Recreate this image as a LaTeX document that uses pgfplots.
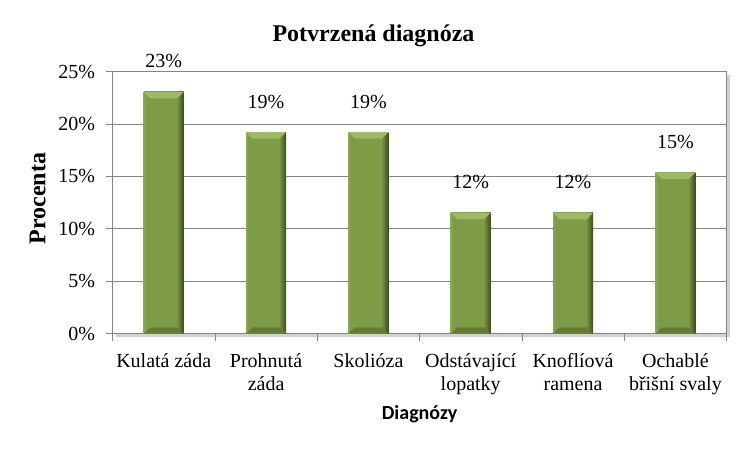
\documentclass[border=0pt]{standalone}
\usepackage{fontspec}
\setmainfont{Liberation Serif}
\newfontfamily\calibri{Carlito}
\usepackage{pgfplots}
\pgfplotsset{compat=1.18}
\usetikzlibrary{shadows}
\definecolor{gridc}{RGB}{134,134,134}
\definecolor{barL}{RGB}{138,168,82}
\definecolor{barM}{RGB}{126,155,71}
\definecolor{barR}{RGB}{58,76,28}
\definecolor{capc}{RGB}{158,186,100}
\definecolor{botc}{RGB}{98,124,50}
\pgfdeclarehorizontalshading{barshade}{100bp}{color(0bp)=(barL); color(25bp)=(barL); color(28bp)=(barM); color(66bp)=(barM); color(75bp)=(barR); color(100bp)=(barR)}
\begin{document}
\begin{tikzpicture}[x=1pt,y=1pt]
\path[use as bounding box, fill=white] (0,0) rectangle (750,450);
\begin{axis}[
  at={(110,111)}, anchor=south west,
  scale only axis, width=614pt, height=262pt,
  /pgf/number format/assume math mode=true,
  xmin=-0.5, xmax=5.5, ymin=0, ymax=25,
  ytick={0,5,...,25},
  yticklabel={\pgfmathprintnumber{\tick}\%},
  xtick={0,...,5},
  xticklabels={Kulatá záda, Prohnutá\\záda, Skolióza, Odstávající\\lopatky, Knoflíová\\ramena, Ochablé\\břišní svaly},
  major x tick style={draw=none},
  minor xtick={-0.5,0.5,...,5.5},
  tick align=outside, tick pos=left,
  major tick length=7pt, minor tick length=7pt,
  tick style={gridc, line width=0.8pt},
  ymajorgrids,
  grid style={gridc, line width=0.8pt},
  axis line style={gridc, line width=0.8pt},
  axis background/.style={fill=white, drop shadow={shadow xshift=3pt, shadow yshift=-3pt, opacity=0.35}},
  ticklabel style={font=\fontsize{20}{23}\selectfont},
  xticklabel style={align=center, anchor=north, yshift=-9pt},
  yticklabel style={anchor=east, xshift=-7pt},
  ylabel={Procenta},
  ylabel style={font=\fontsize{24}{28}\selectfont\bfseries, at={(axis description cs:-0.122,0.515)}, anchor=center},
  xlabel={Diagnózy},
  xlabel style={font=\fontsize{20}{24}\selectfont\calibri\bfseries, at={(axis description cs:0.5,0)}, anchor=base, yshift=-86pt},
  title={Potvrzená diagnóza},
  title style={font=\fontsize{24}{28}\selectfont\bfseries, at={(axis description cs:0.425,1)}, anchor=base, yshift=24pt},
  mainbar/.style={ybar, bar width=40pt, draw=none, shading=barshade,
    nodes near coords={\pgfmathprintnumber[fixed,precision=0]{\pgfplotspointmeta}\%},
    every node near coord/.append style={font=\fontsize{20}{23}\selectfont, anchor=base, yshift=24pt, black}},
  cap/.style={fill=capc, draw=none},
  bot/.style={fill=botc, draw=none},
]
% main bars
\addplot[mainbar] coordinates {(0,23.08)};
\addplot[mainbar] coordinates {(1,19.23)};
\addplot[mainbar] coordinates {(2,19.23)};
\addplot[mainbar] coordinates {(3,11.54)};
\addplot[mainbar] coordinates {(4,11.54)};
\addplot[mainbar] coordinates {(5,15.38)};
% top bevels
\addplot[cap] coordinates {(-0.1955,23.08) (0.1955,23.08) (0.1305,22.45) (-0.1305,22.45)} -- cycle;
\addplot[cap] coordinates {(0.8045,19.23) (1.1955,19.23) (1.1305,18.60) (0.8695,18.60)} -- cycle;
\addplot[cap] coordinates {(1.8045,19.23) (2.1955,19.23) (2.1305,18.60) (1.8695,18.60)} -- cycle;
\addplot[cap] coordinates {(2.8045,11.54) (3.1955,11.54) (3.1305,10.91) (2.8695,10.91)} -- cycle;
\addplot[cap] coordinates {(3.8045,11.54) (4.1955,11.54) (4.1305,10.91) (3.8695,10.91)} -- cycle;
\addplot[cap] coordinates {(4.8045,15.38) (5.1955,15.38) (5.1305,14.75) (4.8695,14.75)} -- cycle;
% bottom bevels
\addplot[bot] coordinates {(-0.1955,0) (0.1955,0) (0.1305,0.6) (-0.1305,0.6)} -- cycle;
\addplot[bot] coordinates {(0.8045,0) (1.1955,0) (1.1305,0.6) (0.8695,0.6)} -- cycle;
\addplot[bot] coordinates {(1.8045,0) (2.1955,0) (2.1305,0.6) (1.8695,0.6)} -- cycle;
\addplot[bot] coordinates {(2.8045,0) (3.1955,0) (3.1305,0.6) (2.8695,0.6)} -- cycle;
\addplot[bot] coordinates {(3.8045,0) (4.1955,0) (4.1305,0.6) (3.8695,0.6)} -- cycle;
\addplot[bot] coordinates {(4.8045,0) (5.1955,0) (5.1305,0.6) (4.8695,0.6)} -- cycle;
\end{axis}
\end{tikzpicture}
\end{document}
